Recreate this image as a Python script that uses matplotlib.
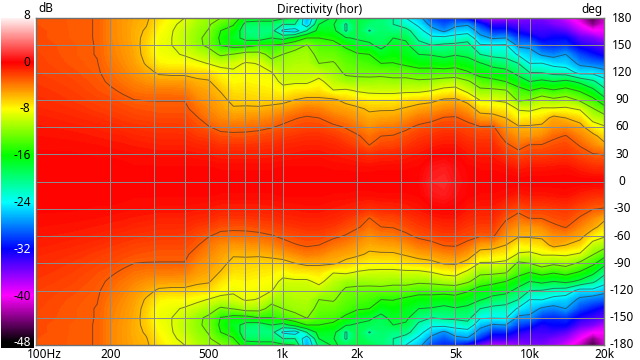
import numpy as np
import matplotlib
matplotlib.use("Agg")
import matplotlib.pyplot as plt
from matplotlib.colors import LinearSegmentedColormap, Normalize

plt.rcParams["font.family"] = ["Noto Sans", "DejaVu Sans"]

angles = [0, 15, 30, 40, 50, 60, 70, 80, 90, 100, 110, 120, 130, 140, 150, 158, 166, 173, 180]
freqs = [100, 140, 177, 200, 225, 250, 280, 315, 355, 400, 450, 500, 560, 630, 710, 800, 900,
         1000, 1120, 1250, 1400, 1600, 1800, 2000, 2240, 2500, 2800, 3150, 3550, 4000, 4500,
         5000, 5600, 6300, 7100, 8000, 9000, 10000, 11200, 12500, 14000, 16000, 18000, 20000]

# one list per frequency, dB at each angle (0..180, other side is mirrored)
columns = [
    [0, -.1, -.2, -.3, -.5, -.7, -.9, -1.2, -1.4, -1.6, -1.8, -2, -2.1, -2.2, -2.3, -2.4, -2.4, -2.5, -2.5],
    [0, -.1, -.2, -.4, -.6, -.9, -1.2, -1.5, -1.8, -2, -2.2, -2.4, -2.6, -2.7, -2.7, -2.8, -2.8, -2.8, -2.8],
    [0, -.1, -.3, -.5, -.8, -1.1, -1.5, -1.9, -2.2, -2.5, -2.7, -2.85, -2.95, -3.05, -3.05, -3.05, -3.05, -3.05, -3.05],
    [0, -.1, -.3, -.6, -.9, -1.3, -1.7, -2.1, -2.4, -2.8, -3.2, -3.5, -3.8, -4, -4.1, -4.2, -4.2, -4.2, -4.2],
    [0, -.1, -.4, -.7, -1, -1.5, -1.9, -2.3, -2.7, -3.2, -3.7, -4.1, -4.4, -4.6, -4.7, -4.8, -4.8, -4.8, -4.8],
    [0, -.2, -.5, -.8, -1.2, -1.6, -2.1, -2.5, -3, -3.6, -4.2, -4.7, -5.1, -5.3, -5.4, -5.5, -5.5, -5.4, -5.3],
    [0, -.2, -.5, -.9, -1.3, -1.7, -2.2, -2.6, -3.05, -3.8, -4.6, -5.4, -6.2, -6.6, -6.7, -6.5, -6.2, -5.9, -5.7],
    [0, -.2, -.6, -1, -1.4, -1.8, -2.3, -2.7, -3.05, -3.9, -5, -6.3, -7.7, -8.4, -8.6, -8.4, -8, -7.6, -7.2],
    [0, -.2, -.6, -1, -1.4, -1.8, -2.3, -2.7, -3.05, -3.9, -5, -6.5, -8, -8.7, -9, -9, -8.9, -8.7, -8.4],
    [0, -.2, -.6, -1, -1.4, -1.9, -2.3, -2.7, -3.05, -4, -5, -6.5, -8, -9.2, -10, -10.2, -10, -9.5, -9],
    [0, -.2, -.7, -1.2, -1.8, -2.4, -2.9, -3.6, -4.3, -4.9, -5.6, -6.8, -8.5, -10, -11.5, -11.6, -11.4, -11, -10.5],
    [0, -.2, -.8, -1.3, -2, -2.9, -3.8, -4.3, -4.8, -5.3, -5.8, -7, -9.1, -10.8, -12.5, -12.6, -12.1, -11.7, -11.3],
    [0, -.3, -1, -1.7, -2.5, -3.5, -4.4, -5, -5.5, -6.1, -7.2, -8, -9.8, -12.4, -15.1, -15.5, -15, -13.5, -12],
    [0, -.3, -1, -1.7, -2.6, -3.6, -4.8, -5.8, -6.5, -7.2, -8, -8.7, -9.5, -11.9, -16, -17, -16, -14.8, -13.5],
    [0, -.3, -1, -1.7, -2.6, -3.5, -4.7, -5.7, -6.6, -7.2, -7.8, -8.3, -8.8, -10.8, -16, -19, -20, -19, -16.5],
    [0, -.3, -1, -1.6, -2.4, -3.4, -4.5, -5.7, -6.8, -7.4, -8, -8.5, -9.1, -11, -15, -19.5, -20, -19, -17],
    [0, -.3, -.9, -1.5, -2.2, -3.1, -4.2, -5.4, -6.8, -7.6, -8.2, -8.9, -11, -13, -15, -18, -20, -19, -17],
    [0, -.2, -.8, -1.2, -1.9, -2.7, -3.6, -5, -6.7, -8.2, -9.5, -10.3, -11, -12, -14.2, -19, -24.5, -21, -17.5],
    [0, -.2, -.7, -1.1, -1.7, -2.4, -3.1, -4.4, -6, -7.5, -9.4, -10, -10.6, -11.2, -13, -17, -25.5, -21, -18],
    [0, -.2, -.6, -1, -1.5, -2.2, -2.8, -3.9, -5.5, -7.5, -9.4, -10, -10.5, -11, -11.9, -15, -21, -26, -27],
    [0, -.2, -.6, -1, -1.5, -2.2, -3, -4.1, -5.6, -7.2, -8.4, -10, -12, -12.7, -13.6, -15, -17, -18, -20],
    [0, -.3, -.8, -1.2, -1.8, -2.7, -3.7, -4.9, -5.7, -8.9, -10.2, -11, -11.8, -12.8, -14, -15.6, -17.2, -17.8, -17.5],
    [0, -.3, -1, -1.6, -2.4, -3.1, -4.2, -5.2, -6.6, -8.6, -11.2, -12.4, -13, -13.7, -15.6, -17.8, -21.3, -21.3, -19],
    [0, -.4, -1.2, -2.2, -2.8, -3.8, -4.8, -5.6, -7.2, -9.2, -11.3, -12.6, -13.6, -14.7, -17, -18.3, -18, -18, -18],
    [0, -.4, -1.6, -3, -3.6, -4.6, -5.4, -6.3, -7.7, -9.5, -11.2, -12.8, -14, -15, -17.6, -18.6, -21.2, -19.5, -18.5],
    [0, -.3, -1.3, -2.3, -3, -4, -5.2, -6.2, -7.7, -9.6, -11, -12.8, -15, -17, -18.7, -19, -19.3, -19.5, -19.5],
    [0, -.3, -1.2, -2.2, -2.9, -3.9, -5.1, -6.2, -7.7, -9.6, -11.3, -13, -14.9, -16.1, -17.2, -18, -20, -21, -21],
    [0, -.3, -1, -1.8, -2.5, -3.3, -4.6, -5.8, -7.1, -9.5, -11.2, -13.1, -15.6, -16.7, -17.4, -18.4, -20, -22.5, -24],
    [0, -.2, -.7, -1.3, -1.9, -2.7, -3.8, -5.2, -6.8, -9.5, -11.5, -13.9, -16.2, -18, -20, -21.6, -23, -24.6, -26],
    [1, .6, -.3, -.9, -1.6, -2.3, -3.5, -4.9, -6.5, -9, -11.3, -13.9, -16.2, -18.2, -21, -23.4, -25.8, -27.9, -30],
    [1.2, .8, -.1, -.7, -1.3, -2, -2.9, -4.4, -5.8, -8.2, -10.8, -13.9, -16.6, -18.7, -20.5, -23.2, -27.6, -29.5, -31],
    [.5, .3, -.2, -.7, -1.3, -2, -2.8, -4.2, -5.7, -8, -10.5, -13.8, -16.1, -18.2, -20.3, -22.9, -25.5, -27.9, -31],
    [0, -.1, -.7, -1.2, -1.8, -2.3, -3.6, -4.9, -6.7, -9.6, -11.6, -14.7, -16.8, -18.6, -20.1, -22, -25.3, -27.3, -33],
    [0, -.3, -.9, -1.4, -2, -2.9, -5, -6.9, -9.2, -11.4, -13.5, -16.3, -17.8, -21, -23.7, -26.2, -28, -31, -36],
    [0, -.3, -.9, -1.4, -2, -2.8, -5.1, -7.2, -9.2, -11.4, -14.3, -16.6, -19, -21.8, -23.8, -27.3, -31, -34, -38],
    [0, -.5, -1.8, -2.7, -3.7, -4.8, -6, -7.7, -9.5, -11.8, -15, -17, -19.7, -22, -23.7, -27, -31, -34, -38],
    [0, -.9, -2.5, -3.6, -4.7, -5.7, -7.9, -9.2, -12.5, -14, -16.4, -19, -21, -24.4, -27.7, -30, -33, -35, -37],
    [0, -.7, -2.1, -2.9, -4.8, -5.7, -7.5, -9.5, -12, -15, -18, -21, -24, -25.7, -27.7, -31, -34, -35, -36],
    [0, -.7, -2.1, -2.9, -4.4, -5.5, -7.1, -8.8, -10.6, -14, -17.3, -21.1, -23.9, -27.4, -30.5, -33, -34, -35, -36],
    [0, -.6, -1.9, -2.5, -3.3, -4.6, -5.3, -8.7, -11.5, -14.7, -18, -21.9, -25, -28, -31, -32, -34, -36, -37],
    [0, -.5, -1.7, -2.3, -2.9, -4.4, -6, -8.6, -10.9, -14, -17.3, -22.3, -25.4, -27, -30.5, -32, -35, -37, -39],
    [0, -1, -2.4, -3.1, -4.2, -5.3, -6.9, -9.3, -12.5, -15.3, -18.6, -25, -27.6, -30, -33, -35, -38, -40, -42],
    [0, -1.4, -2.9, -4.3, -5.3, -7.6, -10, -11.8, -14.3, -17.2, -20.4, -24.7, -28.5, -31.5, -34, -36, -40, -44, -46],
    [0, -1.5, -3.1, -5.4, -7, -8.7, -10.8, -13.7, -17, -20.1, -22.8, -25.9, -29, -33, -35, -38, -40, -41, -42],
]

contourLevels = [-27, -24, -21, -18, -15, -12, -9, -6, -3]
barTicks = [8, 0, -8, -16, -24, -32, -40, -48]
angleTicks = [180, 150, 120, 90, 60, 30, 0, -30, -60, -90, -120, -150, -180]
freqGrid = [200, 300, 400, 500, 600, 700, 800, 900, 1000, 2000, 3000, 4000, 5000, 6000,
            7000, 8000, 9000, 10000]
freqTicks = [100, 200, 500, 1000, 2000, 5000, 10000, 20000]
freqLabels = ["100Hz", "200", "500", "1k", "2k", "5k", "10k", "20k"]

W, H = 640, 360


def axesAt(fig, x0, y0, x1, y1):
    return fig.add_axes([x0 / W, 1 - y1 / H, (x1 - x0) / W, (y1 - y0) / H])


def main():
    fig = plt.figure(figsize=(6.4, 3.6), dpi=100, facecolor="white")
    cmap = LinearSegmentedColormap.from_list("dir", [
        (0, "black"), (1 / 7, "#ff00ff"), (2 / 7, "#0000ff"), (3 / 7, "#00ffff"),
        (4 / 7, "#00ff00"), (5 / 7, "#ffff00"), (6 / 7, "#ff0000"), (1, "white")], N=512)
    norm = Normalize(-48, 8)

    half = np.array(columns).T
    z = np.vstack([half[:0:-1], half])
    ang = np.array([-a for a in angles[:0:-1]] + angles)

    ax = axesAt(fig, 36, 18, 604, 345)
    ax.contourf(freqs, ang, z, levels=np.arange(-48, 8.25, 0.25), cmap=cmap, norm=norm,
                antialiased=False)
    ax.contour(freqs, ang, z, levels=contourLevels, colors="#303030", linewidths=0.72,
               alpha=0.6, linestyles="solid")
    ax.set_xscale("log")
    ax.set_xlim(100, 20000)
    ax.set_ylim(-180, 180)
    for f in freqGrid:
        ax.axvline(f, color="#8c8c8c", lw=0.72)
    for a in angleTicks[1:-1]:
        ax.axhline(a, color="#8c8c8c", lw=0.72)
    ax.set_xticks([])
    ax.set_yticks([])
    ax.minorticks_off()
    for s in ax.spines.values():
        s.set_color("#707070")
        s.set_linewidth(1)
    for f, lab in zip(freqTicks, freqLabels):
        dx = 8 if f == 100 else 0
        ax.annotate(lab, (f, 0), xycoords=("data", "axes fraction"), xytext=(dx, -9),
                    textcoords="offset pixels", ha="center", va="center", fontsize=8.5)
    for a in angleTicks:
        ax.annotate(str(a), (1, a), xycoords=("axes fraction", "data"), xytext=(18, 0),
                    textcoords="offset pixels", ha="center", va="center", fontsize=8.5)

    fig.text(320 / W, 1 - 9 / H, "Directivity (hor)", ha="center", va="center", fontsize=8.5)
    fig.text(38 / W, 1 - 9 / H, "dB", ha="left", va="center", fontsize=8.5)
    fig.text(603 / W, 1 - 9 / H, "deg", ha="right", va="center", fontsize=8.5)

    bar = axesAt(fig, 1, 18, 34, 348)
    grad = np.linspace(7.5, -48.9, 330).reshape(-1, 1)
    bar.imshow(grad, cmap=cmap, norm=norm, aspect="auto", extent=[0, 1, -48.9, 7.5])
    bar.axis("off")
    for v in barTicks:
        col = "white" if v in (-32, -48) else "black"
        fig.text(30.5 / W, 1 - (62 - 5.85 * v) / H, str(v), ha="right", va="center",
                 fontsize=8.5, color=col, zorder=5)

    fig.savefig("out.png", dpi=100, facecolor="white")


if __name__ == "__main__":
    main()
